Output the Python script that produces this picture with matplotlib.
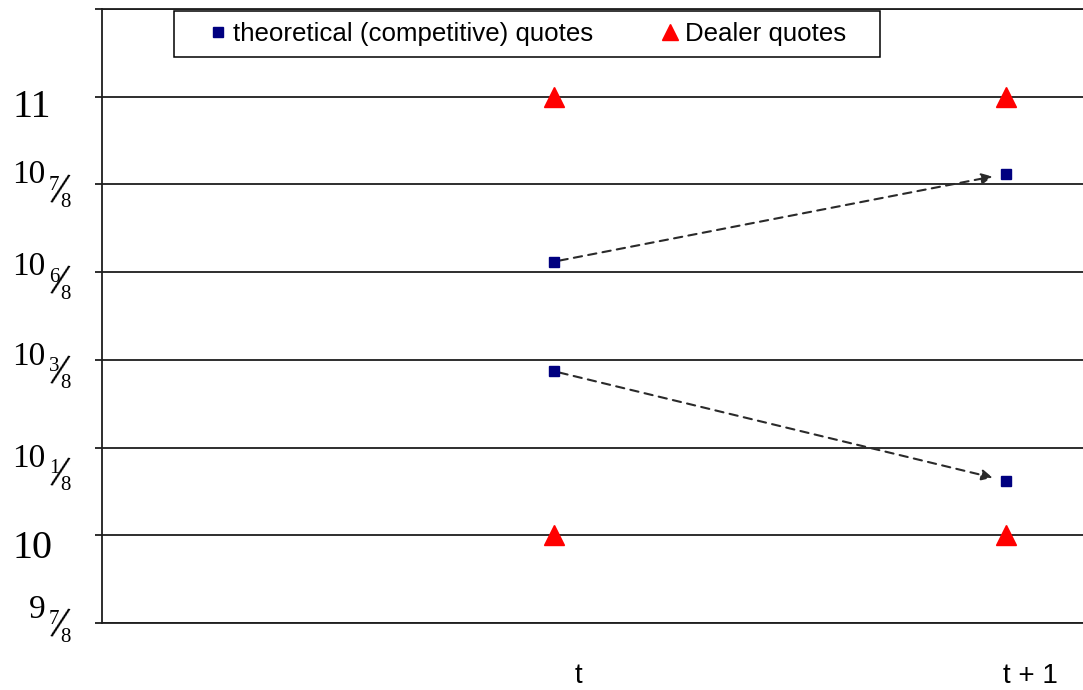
import matplotlib
matplotlib.use('Agg')
import matplotlib.pyplot as plt
from matplotlib import transforms
from matplotlib.lines import Line2D
from matplotlib.patches import Rectangle

# donnees (y en pas de grille : 0 = 9 7/8 ... 6 = 11)
periods = ['t', 't + 1']
period_x = [1, 2]
level_whole = ['9', '10', '10', '10', '10', '10', '11']
level_num = ['7', '', '1', '3', '6', '7', '']
level_den = ['8', '', '8', '8', '8', '8', '']
dealer_ask = [6, 6]
dealer_bid = [1, 1]
theo_ask = [4.12, 5.12]
theo_bid = [2.87, 1.62]

# decalage vertical (pixels sous la ligne) de la ligne de base de chaque etiquette
label_drop = [-5, 23, 19, 5, 3, -1, 20]

W, H = 1083, 690
fig = plt.figure(figsize=(W / 100, H / 100), dpi=100)
ax = fig.add_axes([102 / W, 67 / H, 981 / W, 614 / H])
ax.set_xlim(0, 2.17)
ax.set_ylim(0, 7)

line_col = '#1e1e1e'
ax.set_yticks(range(8))
ax.set_yticklabels([])
ax.set_xticks([])
ax.tick_params(axis='y', length=5, width=1.3, color=line_col)
ax.yaxis.grid(True, color=line_col, lw=1.3)
for s in ['left', 'top', 'bottom']:
    ax.spines[s].set_color(line_col)
    ax.spines[s].set_linewidth(1.3)
ax.spines['right'].set_visible(False)

# fleches pointillees entre t et t+1
for serie in [theo_ask, theo_bid]:
    ax.annotate('', xy=(period_x[1], serie[1]), xytext=(period_x[0], serie[0]),
                arrowprops=dict(arrowstyle='-|>', ls=(0, (4, 3)), color='#2a2a2a',
                                lw=1.5, shrinkA=4, shrinkB=10, mutation_scale=16))

ax.plot(period_x, theo_ask, 's', color='#000080', ms=7.5, zorder=5, clip_on=False)
ax.plot(period_x, theo_bid, 's', color='#000080', ms=7.5, zorder=5, clip_on=False)
ax.plot(period_x, dealer_ask, '^', color='red', ms=14, zorder=5, clip_on=False)
ax.plot(period_x, dealer_bid, '^', color='red', ms=14, zorder=5, clip_on=False)

# etiquettes de l'axe x
for xv, p in zip(period_x, periods):
    ax.annotate(p, xy=(xv, 0), xytext=(24, -60), textcoords='offset pixels',
                ha='center', va='baseline', fontsize=20, family='Liberation Sans',
                annotation_clip=False)

# etiquettes de l'axe y (fractions)
base = transforms.blended_transform_factory(fig.transFigure, ax.transData)
serif = 'Liberation Serif'
for i in range(7):
    tr = transforms.offset_copy(base, fig=fig, x=0, y=-label_drop[i], units='dots')
    if level_num[i] == '':
        fig.text(12 / W, i, level_whole[i], transform=tr, ha='left', va='baseline',
                 fontsize=29, family=serif)
        continue
    fig.text(45 / W, i, level_whole[i], transform=tr, ha='right', va='baseline',
             fontsize=24, family=serif)
    t_num = transforms.offset_copy(base, fig=fig, x=0, y=-label_drop[i] - 2, units='dots')
    fig.text(54 / W, i, level_num[i], transform=t_num, ha='center', va='center',
             fontsize=15, family=serif)
    t_den = transforms.offset_copy(base, fig=fig, x=0, y=-label_drop[i] - 19, units='dots')
    fig.text(65 / W, i, level_den[i], transform=t_den, ha='center', va='center',
             fontsize=15, family=serif)
    t_sl = transforms.offset_copy(base, fig=fig, x=0, y=-label_drop[i] - 9, units='dots')
    fig.text(59 / W, i, '/', transform=t_sl, ha='center', va='center', rotation=-14,
             rotation_mode='anchor', fontsize=34, family=serif)

# legende
handles = [Line2D([], [], marker='s', ls='none', color='#000080', ms=6.5),
           Line2D([], [], marker='^', ls='none', color='red', ms=12)]
fig.add_artist(Rectangle((174 / W, 1 - 57 / H), 706 / W, 46 / H, transform=fig.transFigure,
                         fc='white', ec='black', lw=1.1, zorder=4))
fig.legend(handles, ['theoretical (competitive) quotes', 'Dealer quotes'],
           loc='center left', bbox_to_anchor=(210 / W, 1 - 34 / H), ncol=2,
           frameon=False, handlelength=0.6, handletextpad=0.28, columnspacing=2.7,
           borderpad=0, borderaxespad=0,
           prop={'family': 'Liberation Sans', 'size': 18.6})

fig.savefig('out.png', dpi=100)
